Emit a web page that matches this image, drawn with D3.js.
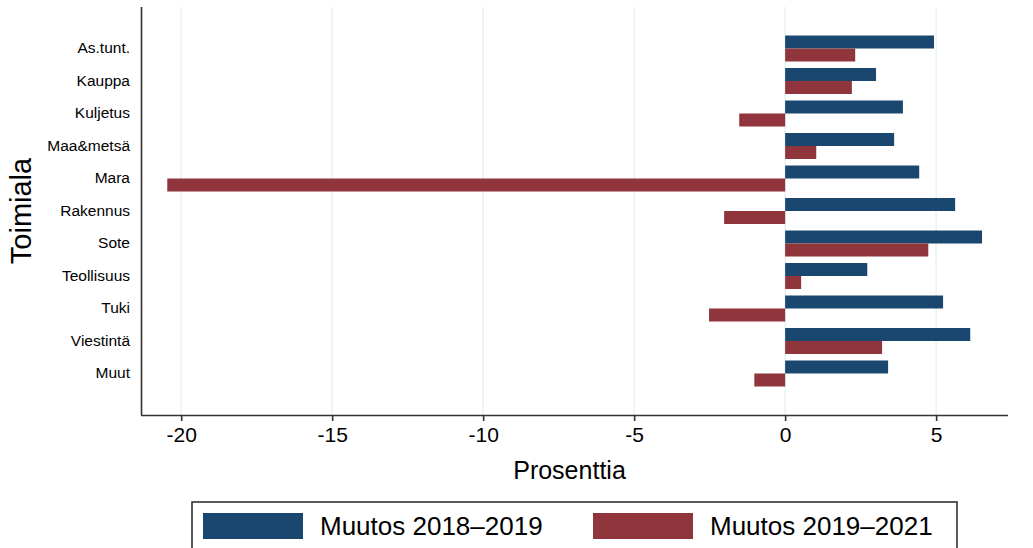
<!DOCTYPE html>
<html>
<head>
<meta charset="utf-8">
<script src="https://cdn.jsdelivr.net/npm/d3@7"></script>
<style>
  body { margin: 0; background: #fff; }
  svg { display: block; font-family: Arial, "Liberation Sans", sans-serif; }
</style>
</head>
<body>
<svg width="1033" height="548"></svg>
<script>
const categories = ["As.tunt.", "Kauppa", "Kuljetus", "Maa&metsä", "Mara", "Rakennus",
  "Sote", "Teollisuus", "Tuki", "Viestintä", "Muut"];
const change1819 = [4.93, 3.01, 3.9, 3.61, 4.44, 5.63, 6.52, 2.72, 5.23, 6.13, 3.41];
const change1921 = [2.32, 2.21, -1.52, 1.03, -20.46, -2.02, 4.74, 0.53, -2.52, 3.21, -1.02];
const seriesNames = ["Muutos 2018–2019", "Muutos 2019–2021"];
const xTicks = [-20, -15, -10, -5, 0, 5];

const colors = ["#1a476f", "#90353b"];
const svg = d3.select("svg");

const plotL = 141, plotR = 1008, plotT = 7, plotB = 415;

const x = d3.scaleLinear().domain([-21.33, 7.38]).range([plotL, plotR]);
const y = d3.scaleBand().domain(categories).range([plotT, plotB])
  .paddingInner(0.2).paddingOuter(0.877);
const sub = d3.scaleBand().domain([0, 1]).range([0, y.bandwidth()]);

// grid
svg.append("g").selectAll("line").data(xTicks).join("line")
  .attr("x1", d => x(d)).attr("x2", d => x(d))
  .attr("y1", plotT).attr("y2", plotB)
  .attr("stroke", "#eaf2f3").attr("stroke-width", 1.6);

// bars
const series = [change1819, change1921];
series.forEach((vals, si) => {
  svg.append("g").selectAll("rect").data(vals).join("rect")
    .attr("x", d => x(Math.min(0, d)))
    .attr("width", d => Math.abs(x(d) - x(0)))
    .attr("y", (d, i) => y(categories[i]) + sub(si))
    .attr("height", sub.bandwidth())
    .attr("fill", colors[si]);
});

// x axis
const xAxis = svg.append("g").attr("transform", `translate(0,${plotB})`)
  .call(d3.axisBottom(x).tickValues(xTicks).tickSize(6).tickPadding(6)
    .tickFormat(d3.format("d")));
xAxis.select(".domain").attr("stroke", "#333").attr("stroke-width", 1.6)
  .attr("d", `M${plotL},0.5H${plotR}`);
xAxis.selectAll(".tick line").attr("stroke", "#333").attr("stroke-width", 1.6);
xAxis.selectAll(".tick text").attr("font-size", 21).attr("fill", "#000")
  .attr("font-family", "Arial, 'Liberation Sans', sans-serif")
  .text(d => d < 0 ? "-" + Math.abs(d) : d);

// y axis
const yAxis = svg.append("g").attr("transform", `translate(${plotL},0)`)
  .call(d3.axisLeft(y).tickSize(0).tickPadding(11));
yAxis.select(".domain").attr("stroke", "#333").attr("stroke-width", 1.6)
  .attr("d", `M0.5,${plotT}V${plotB}`);
yAxis.selectAll(".tick text").attr("font-size", 15.5).attr("fill", "#000")
  .attr("font-family", "Arial, 'Liberation Sans', sans-serif");

// axis titles
svg.append("text").attr("x", (plotL + plotR) / 2 - 5).attr("y", 479)
  .attr("text-anchor", "middle").attr("font-size", 25).text("Prosenttia");
svg.append("text")
  .attr("transform", `translate(31,${(plotT + plotB) / 2}) rotate(-90)`)
  .attr("text-anchor", "middle").attr("font-size", 29).text("Toimiala");

// legend
const legend = svg.append("g");
legend.append("rect").attr("x", 192).attr("y", 502).attr("width", 765).attr("height", 60)
  .attr("fill", "#fff").attr("stroke", "#333").attr("stroke-width", 1.6);
const legX = [203, 593];
seriesNames.forEach((name, i) => {
  legend.append("rect").attr("x", legX[i]).attr("y", 513).attr("width", 100).attr("height", 26)
    .attr("fill", colors[i]);
  legend.append("text").attr("x", legX[i] + 117).attr("y", 535)
    .attr("font-size", 26).attr("fill", "#000").text(name);
});
</script>
</body>
</html>
